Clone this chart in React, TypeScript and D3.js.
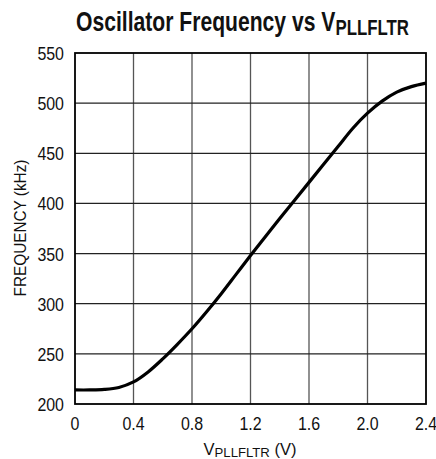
import React, { useEffect, useRef } from 'react';
import * as d3 from 'd3';

const voltage = [0, 0.1, 0.2, 0.3, 0.4, 0.5, 0.6, 0.7, 0.8, 0.9, 1.0, 1.1, 1.2, 1.3, 1.4, 1.5, 1.6, 1.7, 1.8, 1.9, 2.0, 2.1, 2.2, 2.3, 2.4];
const frequency = [214, 214, 214.5, 216.5, 222, 232, 245, 259.5, 275, 292, 310, 329, 348, 366.5, 385, 403, 421, 439, 457, 475, 490, 502, 511, 516.5, 520];
const xTicks = [0, 0.4, 0.8, 1.2, 1.6, 2.0, 2.4];
const xTickLabels = ['0', '0.4', '0.8', '1.2', '1.6', '2.0', '2.4'];
const yTicks = [200, 250, 300, 350, 400, 450, 500, 550];

const FONT = '"Liberation Sans", Arial, sans-serif';

const Chart = () => {
  const ref = useRef<SVGSVGElement | null>(null);

  useEffect(() => {
    if (!ref.current) return;
    const svg = d3.select(ref.current);
    svg.selectAll('*').remove();

    const left = 75, right = 426, top = 53, bottom = 404;
    const x = d3.scaleLinear().domain([0, 2.4]).range([left, right]);
    const y = d3.scaleLinear().domain([200, 550]).range([bottom, top]);

    // grid
    const grid = svg.append('g');
    xTicks.slice(1, -1).forEach(t => {
      grid.append('line')
        .attr('x1', x(t)).attr('x2', x(t))
        .attr('y1', top).attr('y2', bottom)
        .attr('stroke', '#555').attr('stroke-width', 1.3);
    });
    yTicks.slice(1, -1).forEach(t => {
      grid.append('line')
        .attr('x1', left).attr('x2', right)
        .attr('y1', y(t)).attr('y2', y(t))
        .attr('stroke', '#222').attr('stroke-width', 1.2);
    });

    svg.append('rect')
      .attr('x', left).attr('y', top)
      .attr('width', right - left).attr('height', bottom - top)
      .attr('fill', 'none').attr('stroke', '#000').attr('stroke-width', 1.8);

    // curve
    const line = d3.line<number>()
      .x((d, i) => x(voltage[i]))
      .y(d => y(d))
      .curve(d3.curveCatmullRom);
    svg.append('path')
      .attr('d', line(frequency))
      .attr('fill', 'none')
      .attr('stroke', '#000')
      .attr('stroke-width', 3.2)
      .attr('stroke-linejoin', 'round');

    // condensed-looking text: horizontal squeeze via scale
    const label = (tx: number, ty: number, size: number, anchor: string, sx: number, rot = 0) => {
      const g = svg.append('g')
        .attr('transform', `translate(${tx},${ty}) rotate(${rot}) scale(${sx},1)`);
      return g.append('text')
        .attr('text-anchor', anchor)
        .style('font-family', FONT)
        .style('font-size', size + 'px')
        .style('fill', '#111');
    };
    // fit a text to a target width, keeping its anchor
    const fit = (t: any, target: number) => {
      const node = t.node() as SVGTextElement;
      const w = node.getComputedTextLength();
      const g = d3.select(node.parentNode as SVGGElement);
      const tr = g.attr('transform').replace(/scale\([^)]*\)/, `scale(${target / w},1)`);
      g.attr('transform', tr);
    };

    // y tick labels
    yTicks.forEach(v => {
      label(64, y(v) + 7, 19, 'end', 0.84).text(v);
    });

    // x tick labels
    xTicks.forEach((v, i) => {
      label(x(v), 430, 19, 'middle', 0.84).text(xTickLabels[i]);
    });

    // x axis title
    const xt = label(250, 455, 17, 'middle', 1);
    xt.append('tspan').text('V');
    xt.append('tspan').attr('dy', 2).style('font-size', '13.5px').text('PLLFLTR');
    xt.append('tspan').attr('dy', -2).text(' (V)');
    fit(xt, 93);

    // y axis title
    const yt = label(26, 228, 17, 'middle', 1, -90);
    yt.text('FREQUENCY (kHz)');
    fit(yt, 137);

    // title
    const title = label(76, 31, 27, 'start', 1);
    title.style('font-weight', 'bold');
    title.append('tspan').text('Oscillator Frequency vs V');
    title.append('tspan').attr('dy', 4).style('font-size', '21.5px').text('PLLFLTR');
    fit(title, 333);
  }, []);

  return <svg ref={ref} width={436} height={459} style={{ display: 'block' }} />;
};

export default function App() {
  return (
    <div style={{ position: 'absolute', left: 0, top: 0, width: 436, height: 459, background: '#fff' }}>
      <Chart />
    </div>
  );
}
